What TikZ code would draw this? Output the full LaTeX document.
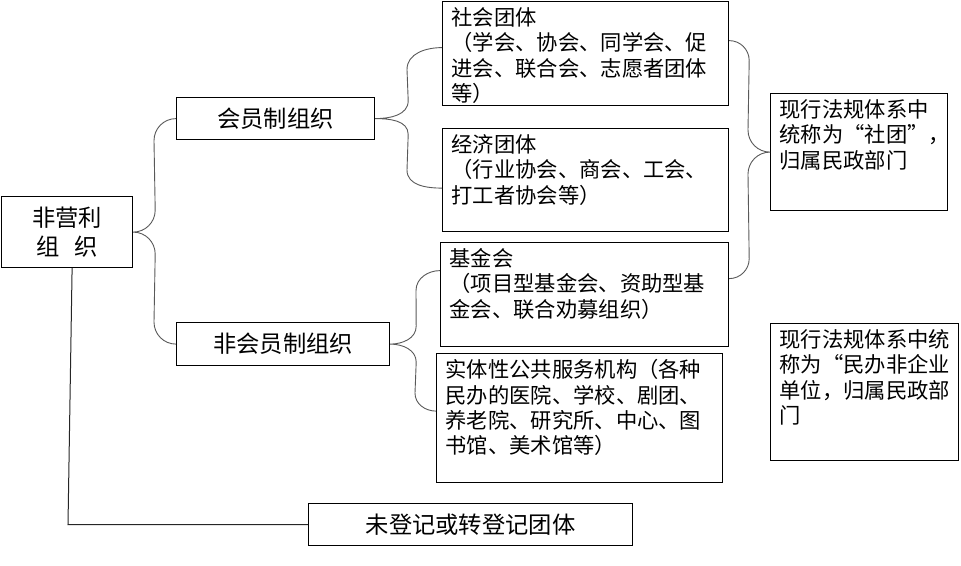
\documentclass[tikz,border=0pt]{standalone}
\usepackage{fontspec}
\setmainfont{Noto Sans CJK SC}
\usetikzlibrary{positioning}

% text block that sits at the top of a box
\newcommand{\leaftext}[3]{\parbox[c][\dimexpr#2-12pt][t]{\dimexpr#1-18pt}{#3}}

\begin{document}
\begin{tikzpicture}
    [x=1pt, y=-1pt,
     box/.style={draw, rectangle, line width=1.2pt, inner sep=0pt, anchor=north west},
     headbox/.style={box, align=center, font=\fontsize{23.3}{29}\selectfont},
     leafbox/.style={box, inner xsep=9pt, inner ysep=6pt, font=\fontsize{21.3}{25.3}\selectfont},
     brace/.style={draw=black!65, line width=0.9pt},
     link/.style={draw=black!85, line width=1pt}]
    \useasboundingbox (0,0) rectangle (961,565);

    % left column
    \node[headbox, minimum width=131pt, minimum height=71pt] (root) at (1,196) {非营利\\组\hspace{0.6em}织};
    \node[headbox, minimum width=198pt, minimum height=42pt] (member) at (176,97) {会员制组织};
    \node[headbox, minimum width=213pt, minimum height=43pt] (nonmember) at (176,322) {非会员制组织};
    \node[headbox, minimum width=324pt, minimum height=42pt] (unreg) at (308,503) {未登记或转登记团体};

    % middle column
    \node[leafbox] (shetuan) at (442,1) {\leaftext{286pt}{104pt}{社会团体\\（学会、协会、同学会、促\\进会、联合会、志愿者团体\\等）}};
    \node[leafbox] (jingji) at (442,128) {\leaftext{286pt}{103pt}{经济团体\\（行业协会、商会、工会、\\打工者协会等）}};
    \node[leafbox] (jijinhui) at (440,242) {\leaftext{288pt}{104pt}{基金会\\（项目型基金会、资助型基\\金会、联合劝募组织）}};
    \node[leafbox] (shiti) at (436,353) {\leaftext{286pt}{129pt}{实体性公共服务机构（各种\\民办的医院、学校、剧团、\\养老院、研究所、中心、图\\书馆、美术馆等）}};

    % right column
    \node[leafbox] (note1) at (770,93) {\leaftext{177pt}{117pt}{现行法规体系中\\统称为“社团”，\\归属民政部门}};
    \node[leafbox] (note2) at (770,323) {\leaftext{188pt}{137pt}{现行法规体系中统\\称为“民办非企业\\单位，归属民政部\\门}};

    % braces
    \draw[brace] (member.west) to[out=180,in=90] ([xshift=-22pt,yshift=-22pt]member.west)
        -- ([xshift=22pt,yshift=22pt]root.east) to[out=270,in=0] (root.east)
        to[out=0,in=90] ([xshift=22pt,yshift=-22pt]root.east)
        -- ([xshift=-22pt,yshift=22pt]nonmember.west) to[out=270,in=180] (nonmember.west);
    \draw[brace] ([yshift=6pt]shetuan.west) to[out=180,in=90] ([xshift=-35pt,yshift=-16pt]shetuan.west)
        -- ([xshift=33pt,yshift=18pt]member.east) to[out=270,in=0] (member.east)
        to[out=0,in=90] ([xshift=33pt,yshift=-16pt]member.east)
        -- ([xshift=-35pt,yshift=10pt]jingji.west) to[out=270,in=180] ([yshift=-8pt]jingji.west);
    \draw[brace] ([yshift=24pt]jijinhui.west) to[out=180,in=90] ([xshift=-24pt,yshift=4pt]jijinhui.west)
        -- ([xshift=26pt,yshift=18pt]nonmember.east) to[out=270,in=0] (nonmember.east)
        to[out=0,in=90] ([xshift=26pt,yshift=-18pt]nonmember.east)
        -- ([xshift=-21pt,yshift=25pt]shiti.west) to[out=270,in=180] ([yshift=7pt]shiti.west);
    \draw[brace] ([yshift=13pt]shetuan.east) to[out=0,in=90] ([xshift=20pt,yshift=-7pt]shetuan.east)
        -- ([xshift=-22pt,yshift=22pt]note1.west) to[out=270,in=180] (note1.west)
        to[out=180,in=90] ([xshift=-22pt,yshift=-22pt]note1.west)
        -- ([xshift=20pt,yshift=36pt]jijinhui.east) to[out=270,in=0] ([yshift=16pt]jijinhui.east);

    % unregistered groups
    \draw[link] ([xshift=5pt]root.south) -- ([xshift=-240pt]unreg.west) -- (unreg.west);
\end{tikzpicture}
\end{document}
